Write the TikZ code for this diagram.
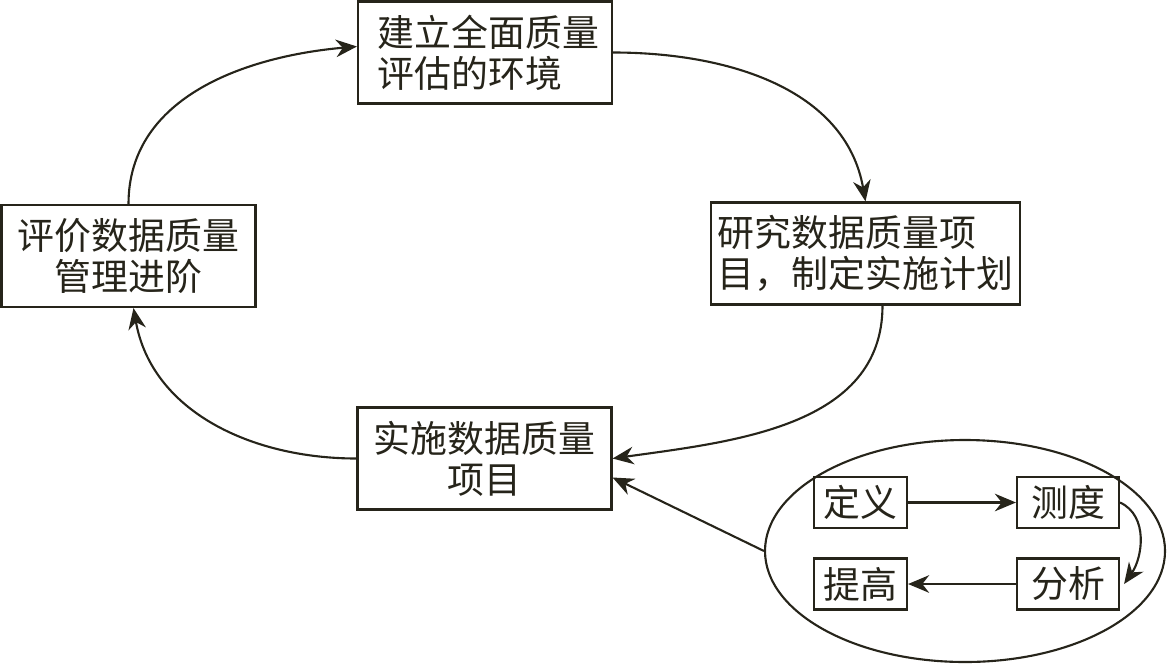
\documentclass[tikz,border=0pt]{standalone}
\usepackage{fontspec}
\setmainfont{Noto Sans CJK SC}
\usepackage{tikz}
\usetikzlibrary{arrows.meta,calc,shapes.geometric}
\definecolor{ink}{RGB}{38,36,26}

\begin{document}
\begin{tikzpicture}[ink, line width=0.6pt,
  box/.style={draw, inner sep=0pt, font=\fontsize{10.5}{11.6}\selectfont},
  stage/.style={box, minimum width=2.54cm, minimum height=1.02cm},
  tip/.style={-{Stealth[length=6pt,width=5pt]}}]
  \useasboundingbox (0,0) rectangle (11.7,-6.64);
  % Big cycle
  \node[stage, align=left] (env) at (4.85,-0.525) {\hspace*{0.07cm}建立全面质量\\\hspace*{0.07cm}评估的环境};
  \node[stage, minimum width=3.09cm, align=left] (plan) at (8.655,-2.535)
    {研究数据质量项\\目，制定实施计划};
  \node[stage, align=center] (proj) at (4.845,-4.585) {实施数据质量\\项目};
  \node[stage, align=center] (eval) at (1.285,-2.56) {评价数据质量\\管理进阶};
  \draw[tip] (eval.north) to[out=90,in=185] ($(env.west)+(0,0.06)$);
  \draw[tip] (env.east) to[out=0,in=100] (plan.north);
  \draw[tip] ($(plan.south)+(0.17,0)$) to[out=-90,in=8] (proj.east);
  \draw[tip] (proj.west) to[out=180,in=-80] ($(eval.south)+(0.05,0)$);
  % Small cycle
  \node[draw, ellipse, inner sep=0pt, minimum width=4cm, minimum height=2.22cm]
    (cyc) at (9.65,-5.51) {};
  \node[box, minimum width=0.93cm, minimum height=0.51cm] (def) at (8.605,-5.025) {定义};
  \node[box, minimum width=1.02cm, minimum height=0.51cm] (meas) at (10.68,-5.025) {测度};
  \node[box, minimum width=1.02cm, minimum height=0.51cm] (ana) at (10.68,-5.84) {分析};
  \node[box, minimum width=0.93cm, minimum height=0.51cm] (imp) at (8.605,-5.84) {提高};
  \draw[tip] (def) -- (meas);
  \draw[tip] (meas.east) to[out=-25,in=55] ($(ana.east)+(0.04,0)$);
  \draw[tip] (ana) -- (imp);
  \draw[tip] (cyc.west) -- ($(proj.east)+(0,-0.19)$);
\end{tikzpicture}
\end{document}
